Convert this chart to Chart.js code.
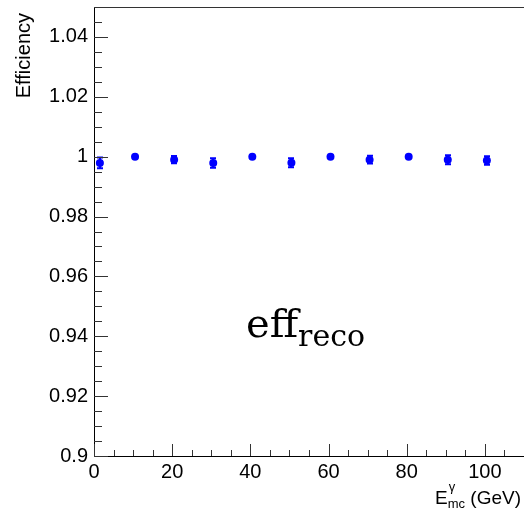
<!DOCTYPE html>
<html>
<head>
<meta charset="utf-8">
<script src="https://cdn.jsdelivr.net/npm/chart.js@4.4.0/dist/chart.umd.min.js"></script>
<style>
  body { margin: 0; background: #fff; }
  #wrap { width: 524px; height: 516px; }
</style>
</head>
<body>
<div id="wrap"><canvas id="effChart" width="524" height="516"></canvas></div>
<script>
// --- Data ---
const energies   = [1.5, 10.5, 20.5, 30.5, 40.5, 50.5, 60.5, 70.5, 80.5, 90.5, 100.5];
const efficiency = [0.9979, 1.0, 0.999, 0.9979, 1.0, 0.998, 1.0, 0.999, 1.0, 0.999, 0.9987];
const effErrors  = [0.0018, 0.0004, 0.0012, 0.0016, 0.0004, 0.0015, 0.0004, 0.0013, 0.0004, 0.0015, 0.0014];

const xTicks = [0, 20, 40, 60, 80, 100];
const yTicks = [0.9, 0.92, 0.94, 0.96, 0.98, 1, 1.02, 1.04];

const AXIS_FONT = 'Liberation Sans, Arial, sans-serif';
const MARKER_COLOR = '#0000ff';

// ROOT prints 1 and 0.9, not 1.00 / 0.90
const fmtTick = (v) => String(Number(v.toFixed(2)));

// --- Plugin: ROOT style inner ticks, frame, error bars and texts ---
const rootStyle = {
    id: 'rootStyle',
    afterDatasetsDraw(chart) {
        const { ctx, scales: { x, y } } = chart;
        ctx.save();
        ctx.strokeStyle = MARKER_COLOR;
        ctx.lineWidth = 2;
        energies.forEach((e, i) => {
            const px = Math.round(x.getPixelForValue(e));
            const yHi = y.getPixelForValue(efficiency[i] + effErrors[i]);
            const yLo = y.getPixelForValue(efficiency[i] - effErrors[i]);
            ctx.beginPath();
            ctx.moveTo(px, yHi);
            ctx.lineTo(px, yLo);
            ctx.moveTo(px - 3, yHi);
            ctx.lineTo(px + 3, yHi);
            ctx.moveTo(px - 3, yLo);
            ctx.lineTo(px + 3, yLo);
            ctx.stroke();
        });
        ctx.restore();
    },
    afterDraw(chart) {
        const { ctx, chartArea: area, scales: { x, y } } = chart;
        ctx.save();

        // frame top line (no right side visible)
        ctx.strokeStyle = '#333';
        ctx.lineWidth = 1;
        ctx.beginPath();
        ctx.moveTo(area.left, area.top + 0.5);
        ctx.lineTo(area.right, area.top + 0.5);
        ctx.stroke();

        // inner ticks
        ctx.strokeStyle = '#333';
        ctx.beginPath();
        for (let v = 0; v <= 110.001; v += 5) {
            const px = Math.round(x.getPixelForValue(v)) + 0.5;
            const len = (Math.round(v) % 20 === 0) ? 12 : 6;
            ctx.moveTo(px, area.bottom);
            ctx.lineTo(px, area.bottom - len);
        }
        for (let k = 0; k <= 30; k++) {
            const v = 0.9 + k * 0.005;
            const py = Math.round(y.getPixelForValue(v)) + 0.5;
            const len = (k % 4 === 0) ? 14 : 8;
            ctx.moveTo(area.left, py);
            ctx.lineTo(area.left + len, py);
        }
        ctx.stroke();

        // y title
        ctx.fillStyle = '#000';
        ctx.font = '20px ' + AXIS_FONT;
        ctx.save();
        ctx.translate(30, 13);
        ctx.rotate(-Math.PI / 2);
        ctx.textAlign = 'right';
        ctx.textBaseline = 'alphabetic';
        ctx.fillText('Efficiency', 0, 0);
        ctx.restore();

        // x title: E^gamma_mc (GeV), right aligned
        ctx.textBaseline = 'alphabetic';
        ctx.textAlign = 'left';
        ctx.font = '19px ' + AXIS_FONT;
        const tail = ' (GeV)';
        const wTail = ctx.measureText(tail).width;
        const wE = ctx.measureText('E').width;
        ctx.font = '13px ' + AXIS_FONT;
        const wSub = ctx.measureText('mc').width;
        const wSup = ctx.measureText('γ').width;
        const wScript = Math.max(wSub, wSup);
        const right = 521;
        const base = 504;
        const xs = right - wTail - wScript - wE;
        ctx.font = '19px ' + AXIS_FONT;
        ctx.fillText('E', xs, base);
        ctx.font = '13px ' + AXIS_FONT;
        ctx.fillText('γ', xs + wE + 1, base - 13);
        ctx.fillText('mc', xs + wE, base + 4);
        ctx.font = '19px ' + AXIS_FONT;
        ctx.fillText(tail, xs + wE + wScript, base);

        // eff_reco label
        ctx.font = '40px "DejaVu Serif", serif';
        ctx.fillText('eff', 246, 337);
        const wEff = ctx.measureText('eff').width;
        ctx.font = '30px "DejaVu Serif", serif';
        ctx.fillText('reco', 246 + wEff, 346);

        ctx.restore();
    }
};

const ctx = document.getElementById('effChart').getContext('2d');

new Chart(ctx, {
    type: 'scatter',
    data: {
        datasets: [{
            label: 'eff_reco',
            data: energies.map((e, i) => ({ x: e, y: efficiency[i] })),
            backgroundColor: MARKER_COLOR,
            borderColor: MARKER_COLOR,
            pointRadius: 4,
            pointBorderWidth: 0
        }]
    },
    options: {
        responsive: false,
        animation: false,
        layout: { autoPadding: false, padding: { top: 7, right: 0, left: 0, bottom: 0 } },
        plugins: {
            legend: { display: false },
            tooltip: { enabled: false }
        },
        scales: {
            x: {
                type: 'linear',
                min: 0,
                max: 110,
                afterBuildTicks: (scale) => { scale.ticks = xTicks.map(v => ({ value: v })); },
                afterFit: (scale) => {
                    scale.height = 60;
                    scale.paddingLeft = 0;
                    scale.paddingRight = 0;
                },
                grid: { display: false, drawTicks: false },
                border: { display: true, color: '#000', width: 1 },
                ticks: {
                    color: '#000',
                    font: { family: AXIS_FONT, size: 20 },
                    padding: 4,
                    maxRotation: 0,
                    autoSkip: false,
                    callback: fmtTick
                }
            },
            y: {
                type: 'linear',
                min: 0.9,
                max: 1.05,
                afterBuildTicks: (scale) => { scale.ticks = yTicks.map(v => ({ value: v })); },
                afterFit: (scale) => {
                    scale.width = 94;
                    scale.paddingTop = 0;
                    scale.paddingBottom = 0;
                },
                grid: { display: false, drawTicks: false },
                border: { display: true, color: '#000', width: 1 },
                ticks: {
                    color: '#000',
                    font: { family: AXIS_FONT, size: 20 },
                    padding: 6,
                    autoSkip: false,
                    callback: fmtTick
                }
            }
        }
    },
    plugins: [rootStyle]
});
</script>
</body>
</html>
